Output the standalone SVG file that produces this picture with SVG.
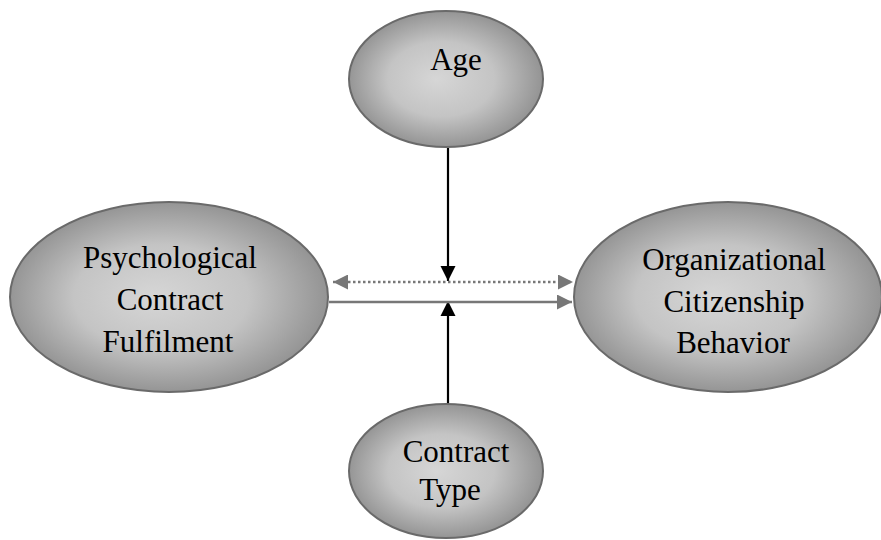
<svg xmlns="http://www.w3.org/2000/svg" width="881" height="540" viewBox="0 0 881 540">
<defs>
<radialGradient id="g" cx="50%" cy="50%" r="55%" fx="45%" fy="50%">
<stop offset="0" stop-color="#d6d6d6"/>
<stop offset="0.5" stop-color="#c4c4c4"/>
<stop offset="1" stop-color="#8a8a8a"/>
</radialGradient>
<marker id="ab" viewBox="0 0 10 10" refX="10" refY="5" markerWidth="7" markerHeight="7" orient="auto" markerUnits="strokeWidth">
<path d="M0,0 L10,5 L0,10 z" fill="#000"/>
</marker>
<marker id="ag" viewBox="0 0 10 10" refX="10" refY="5" markerWidth="6" markerHeight="6" orient="auto-start-reverse" markerUnits="strokeWidth">
<path d="M0,0 L10,5 L0,10 z" fill="#777"/>
</marker>
</defs>
<style>
.n ellipse{fill:url(#g);stroke:#6a6a6a;stroke-width:2}
text{font-family:"Liberation Serif","Times New Roman",serif;font-size:31px;fill:#000;text-anchor:middle}
</style>
<rect width="881" height="540" fill="#fff"/>
<g id="connectors">
<line x1="448" y1="148" x2="448" y2="281" stroke="#000" stroke-width="2.2" marker-end="url(#ab)"/>
<line x1="448" y1="404" x2="448" y2="301" stroke="#000" stroke-width="2.2" marker-end="url(#ab)"/>
<line x1="333" y1="282" x2="573" y2="282" stroke="#777" stroke-width="2.5" stroke-dasharray="2.5 2.5" marker-start="url(#ag)" marker-end="url(#ag)"/>
<line x1="329" y1="302" x2="572" y2="302" stroke="#777" stroke-width="2.5" marker-end="url(#ag)"/>
</g>
<g id="age" class="n">
<ellipse cx="446" cy="79" rx="97" ry="68"/>
<text x="456" y="70">Age</text>
</g>
<g id="pcf" class="n">
<ellipse cx="169" cy="297" rx="159" ry="95"/>
<text x="170" y="268">Psychological</text>
<text x="170" y="310">Contract</text>
<text x="168" y="352">Fulfilment</text>
</g>
<g id="ocb" class="n">
<ellipse cx="728" cy="297" rx="154" ry="95"/>
<text x="734" y="270">Organizational</text>
<text x="734" y="312">Citizenship</text>
<text x="733" y="353">Behavior</text>
</g>
<g id="ct" class="n">
<ellipse cx="446" cy="471" rx="97" ry="67"/>
<text x="456" y="462">Contract</text>
<text x="450" y="500">Type</text>
</g>
</svg>
